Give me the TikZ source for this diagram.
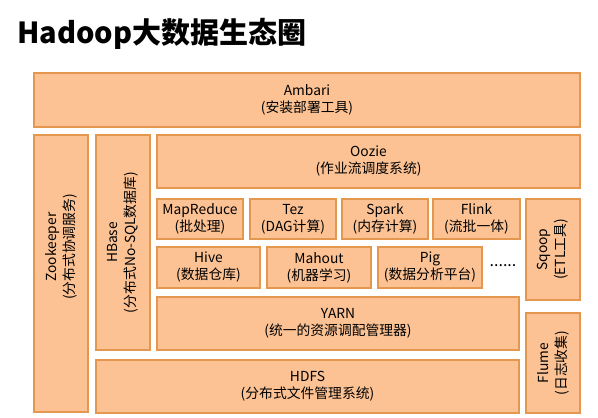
\documentclass[tikz,border=0pt]{standalone}
\usepackage{fontspec}
\setmainfont{Noto Sans CJK SC}
\definecolor{boxfill}{HTML}{FCC294}
\definecolor{boxline}{HTML}{E4984F}

\begin{document}
\begin{tikzpicture}[x=1pt,y=-1pt,
  blk/.style={draw=boxline,fill=boxfill,line width=1.5pt,inner sep=0pt,align=center,
    font=\fontsize{13.8}{17}\selectfont},
  lab/.style={align=center,inner sep=1pt,font=\fontsize{13.8}{18}\selectfont},
  vlab/.style={lab,rotate=90}]
  \useasboundingbox (0,0) rectangle (598,418);
  \node[anchor=base west,inner sep=0pt,font=\fontsize{29}{34}\selectfont\bfseries] (title) at (17,43) {Hadoop大数据生态圈};
  % horizontal blocks: name/left/top/right/bottom/text
  \foreach \name/\l/\t/\r/\b/\txt in {
      amb/34/73/580/127/{Ambari\\(安装部署工具)},
      oz/157/135/580/188/{Oozie\\(作业流调度系统)},
      mr/157/199/243/239/{MapReduce\\(批处理)},
      tez/250/199/336/239/{Tez\\(DAG计算)},
      spk/342/199/428/239/{Spark\\(内存计算)},
      flk/433/199/520/239/{Flink\\(流批一体)},
      hv/157/247/260/288/{Hive\\(数据仓库)},
      mh/267/247/371/288/{Mahout\\(机器学习)},
      pig/378/247/482/288/{Pig\\(数据分析平台)},
      yarn/157/297/519/350/{YARN\\(统一的资源调配管理器)},
      hdfs/96/360/519/413/{HDFS\\(分布式文件管理系统)}}
    \node[blk,minimum width={(\r-\l)*1pt},minimum height={(\b-\t)*1pt}] (\name)
      at ({(\l+\r)/2},{(\t+\b)/2}) {\txt};
  % vertical blocks, labels set apart
  \foreach \name/\l/\t/\r/\b in {zk/34/135/88/412,hb/96/135/150/350,
      sq/526/199/580/300,flm/526/313/580/413}
    \node[blk,minimum width={(\r-\l)*1pt},minimum height={(\b-\t)*1pt}] (\name)
      at ({(\l+\r)/2},{(\t+\b)/2}) {};
  \node[vlab] (zk-t) at (61,247) {Zookeeper\\(分布式协调服务)};
  \node[vlab] (hb-t) at (hb) {HBase\\(分布式No-SQL数据库)};
  \node[vlab] (sq-t) at (sq) {Sqoop\\(ETL工具)};
  \node[vlab] (flm-t) at (flm) {Flume\\(日志收集)};
  % more frameworks
  \node[inner sep=0pt,font=\fontsize{16}{16}\selectfont] (more) at (503,266) {......};
\end{tikzpicture}
\end{document}
